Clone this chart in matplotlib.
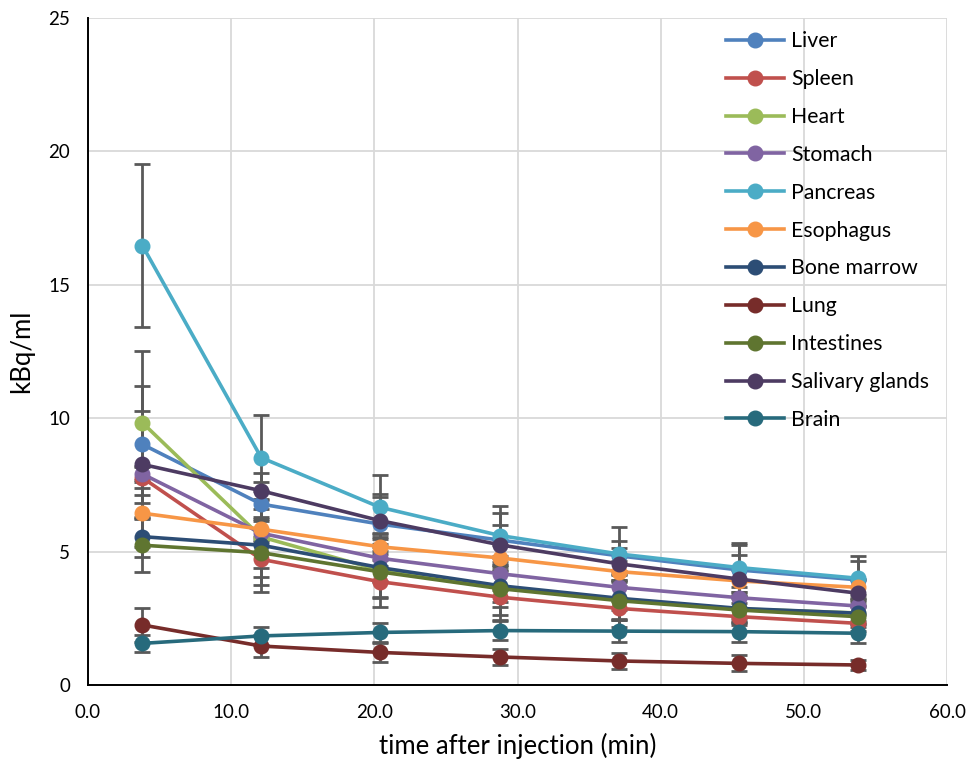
import numpy as np
import matplotlib
matplotlib.use("Agg")
import matplotlib.pyplot as plt

plt.rcParams['font.family'] = ['Lato', 'DejaVu Sans']

# time after injection (min)
t = [3.8, 12.1, 20.4, 28.8, 37.1, 45.5, 53.8]

organs = ["Liver", "Spleen", "Heart", "Stomach", "Pancreas", "Esophagus",
          "Bone marrow", "Lung", "Intestines", "Salivary glands", "Brain"]

liver = [9.02, 6.78, 6.03, 5.43, 4.84, 4.31, 3.94]
spleen = [7.77, 4.71, 3.87, 3.29, 2.87, 2.56, 2.31]
heart = [9.83, 5.55, 4.30, 3.65, 3.20, 2.85, 2.70]
stomach = [7.91, 5.69, 4.75, 4.17, 3.66, 3.27, 2.96]
pancreas = [16.47, 8.52, 6.66, 5.60, 4.91, 4.40, 4.00]
esophagus = [6.44, 5.84, 5.18, 4.76, 4.25, 3.90, 3.66]
bone_marrow = [5.56, 5.24, 4.40, 3.72, 3.25, 2.87, 2.69]
lung = [2.25, 1.46, 1.22, 1.05, 0.90, 0.81, 0.75]
intestines = [5.24, 4.96, 4.24, 3.61, 3.16, 2.81, 2.56]
salivary = [8.27, 7.28, 6.16, 5.25, 4.54, 3.97, 3.44]
brain = [1.56, 1.84, 1.97, 2.04, 2.02, 2.00, 1.94]

liver_err = [2.2, 0.5, 1.0, 1.0, 0.55, 0.94, 0.72]
spleen_err = [0.4, 0.65, 0.6, 0.35, 0.4, 0.3, 0.3]
heart_err = [2.7, 2.06, 1.0, 1.2, 0.75, 0.5, 0.4]
stomach_err = [0.3, 1.3, 0.9, 0.6, 0.5, 0.4, 0.3]
pancreas_err = [3.06, 1.6, 1.2, 1.1, 1.0, 0.93, 0.83]
esophagus_err = [1.26, 0.4, 0.5, 0.5, 0.4, 0.4, 0.3]
bone_marrow_err = [0.75, 0.3, 0.5, 0.6, 0.45, 0.4, 0.3]
lung_err = [0.62, 0.4, 0.35, 0.3, 0.3, 0.3, 0.18]
intestines_err = [1.0, 1.2, 1.3, 1.0, 0.97, 0.5, 0.4]
salivary_err = [2.0, 0.68, 1.0, 0.75, 0.6, 0.9, 0.5]
brain_err = [0.31, 0.35, 0.37, 0.35, 0.4, 0.38, 0.35]

values = [liver, spleen, heart, stomach, pancreas, esophagus,
          bone_marrow, lung, intestines, salivary, brain]
errors = [liver_err, spleen_err, heart_err, stomach_err, pancreas_err, esophagus_err,
          bone_marrow_err, lung_err, intestines_err, salivary_err, brain_err]
colors = ["#4F81BD", "#C0504D", "#9BBB59", "#8064A2", "#4BACC6", "#F79646",
          "#2C4D75", "#772C2A", "#5F7530", "#4D3B62", "#276A7C"]

fig = plt.figure(figsize=(9.66, 7.59), dpi=100)
ax = fig.add_axes([88/966, 1 - 685/759, (947-88)/966, (685-18)/759])

for name, v, e, c in zip(organs, values, errors, colors):
    ax.errorbar(t, v, yerr=e, color=c, lw=2.6, marker='o', markersize=10.5,
                ecolor='#595959', elinewidth=2, capsize=6, capthick=2, label=name)

ax.set_xlim(0, 60)
ax.set_ylim(0, 25)
ax.set_xticks(np.arange(0, 61, 10))
ax.set_xticklabels([f"{x:.1f}" for x in np.arange(0, 61, 10)])
ax.set_yticks(np.arange(0, 26, 5))
ax.tick_params(length=0, labelsize=13.5, colors='#000000')
ax.tick_params(axis='x', pad=14)
ax.tick_params(axis='y', pad=13)
ax.grid(True, color='#D9D9D9', lw=1.3)
ax.set_axisbelow(True)
for s in ['top', 'right']:
    ax.spines[s].set_visible(False)
for s in ['left', 'bottom']:
    ax.spines[s].set_color('#000000')
    ax.spines[s].set_linewidth(1.4)

ax.set_xlabel("time after injection (min)", fontsize=18.5, labelpad=8)
ax.set_ylabel("kBq/ml", fontsize=18.5, labelpad=10)

handles, labels = ax.get_legend_handles_labels()
handles = [h[0] for h in handles]
ax.legend(handles, labels, loc='upper left', bbox_to_anchor=(0.743, 0.98),
          frameon=False, fontsize=15.3, labelspacing=0.84, handlelength=2.7,
          handletextpad=0.35, borderpad=0, borderaxespad=0)

fig.savefig("out.png", dpi=100)
